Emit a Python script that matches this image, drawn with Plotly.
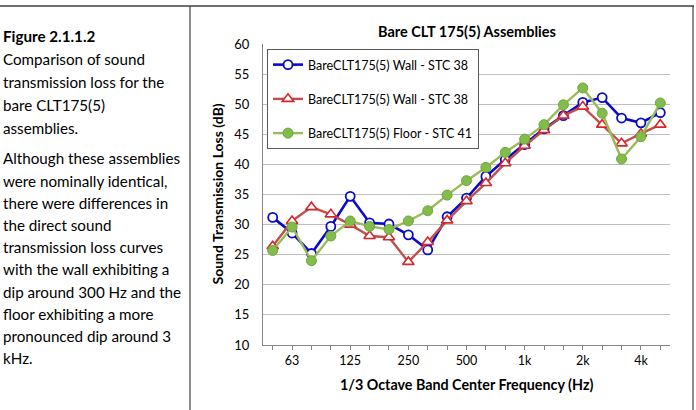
import plotly.graph_objects as go

# ---------------- data ----------------
freqs = ["50", "63", "80", "100", "125", "160", "200", "250", "315", "400", "500",
         "630", "800", "1k", "1.25k", "1.6k", "2k", "2.5k", "3.15k", "4k", "5k"]
tick_labels = ["", "63", "", "", "125", "", "", "250", "", "", "500",
               "", "", "1k", "", "", "2k", "", "", "4k", ""]

wall1_name = "BareCLT175(5) Wall - STC 38"
wall1 = [31.2, 28.6, 25.2, 29.7, 34.7, 30.3, 30.1, 28.3, 25.8, 31.3, 34.4,
         38.0, 40.8, 43.3, 45.9, 48.1, 50.3, 51.1, 47.7, 46.9, 48.6]

wall2_name = "BareCLT175(5) Wall - STC 38"
wall2 = [26.4, 30.6, 32.9, 31.7, 30.0, 28.1, 27.9, 23.8, 27.1, 30.7, 33.9,
         36.9, 40.2, 43.1, 45.7, 48.1, 49.6, 46.6, 43.5, 45.1, 46.6]

floor_name = "BareCLT175(5) Floor - STC 41"
floor = [25.7, 29.6, 24.0, 28.1, 30.6, 29.7, 29.2, 30.6, 32.3, 34.9, 37.3,
         39.5, 42.0, 44.2, 46.6, 49.9, 52.7, 48.5, 40.9, 44.6, 50.2]

chart_title = "Bare CLT 175(5) Assemblies"
x_title = "1/3 Octave Band Center Frequency (Hz)"
y_title = "Sound Transmission Loss (dB)"

caption_bold = "Figure 2.1.1.2"
caption_lines_1 = ["Comparison of sound", "transmission loss for the",
                   "bare CLT175(5)", "assemblies."]
caption_lines_2 = ["Although these assemblies", "were nominally identical,",
                   "there were differences in", "the direct sound",
                   "transmission loss curves", "with the wall exhibiting a",
                   "dip around 300 Hz and the", "floor exhibiting a more",
                   "pronounced dip around 3", "kHz."]

# ---------------- layout constants ----------------
W, H = 696, 410
L, R, T, B = 263, 670, 44, 345  # plot area in pixels
FONT = "Lato"


def px_x(px):
    return (px - L) / (R - L)


def px_y(py):
    return (B - py) / (B - T)


xi = list(range(len(freqs)))

fig = go.Figure()
fig.add_trace(go.Scatter(
    x=xi, y=wall1, name=wall1_name, mode="lines+markers", legendgroup="a",
    line=dict(color="#0A0AC8", width=2.6),
    marker=dict(symbol="circle", size=9, color="white",
                line=dict(color="#0A0AC8", width=1.8))))
fig.add_trace(go.Scatter(
    x=xi, y=wall2, name=wall2_name, mode="lines+markers", legendgroup="b",
    line=dict(color="#C0504D", width=2.4),
    marker=dict(symbol="triangle-up", size=10, color="white",
                line=dict(color="#D8262B", width=1.6))))
fig.add_trace(go.Scatter(
    x=xi, y=floor, name=floor_name, mode="lines+markers", legendgroup="c",
    line=dict(color="#9BBB59", width=2.4),
    marker=dict(symbol="circle", size=10, color="#82BC4B",
                line=dict(color="#6FA73D", width=1))))

annotations = []
# chart title
annotations.append(dict(text="<b>%s</b>" % chart_title, x=0.5, y=px_y(32),
                        xref="paper", yref="paper", showarrow=False,
                        font=dict(family=FONT, size=14.5, color="#000"),
                        xanchor="center", yanchor="middle"))
# axis titles
annotations.append(dict(text="<b>%s</b>" % x_title, x=0.5, y=px_y(384),
                        xref="paper", yref="paper", showarrow=False,
                        font=dict(family=FONT, size=14.3, color="#000"),
                        xanchor="center", yanchor="middle"))
annotations.append(dict(text="<b>%s</b>" % y_title, x=px_x(217), y=0.5,
                        xref="paper", yref="paper", showarrow=False, textangle=-90,
                        font=dict(family=FONT, size=14, color="#000"),
                        xanchor="center", yanchor="middle"))
# caption text
cap_x = px_x(1)
cap_size = 15.2
annotations.append(dict(text="<b>%s</b>" % caption_bold, x=cap_x, y=px_y(36),
                        xref="paper", yref="paper", showarrow=False,
                        font=dict(family=FONT, size=cap_size, color="#000"),
                        xanchor="left", yanchor="middle"))
for i, t in enumerate(caption_lines_1):
    annotations.append(dict(text=t, x=cap_x, y=px_y(58.5 + 23 * i),
                            xref="paper", yref="paper", showarrow=False,
                            font=dict(family=FONT, size=cap_size, color="#000"),
                            xanchor="left", yanchor="middle"))
for i, t in enumerate(caption_lines_2):
    annotations.append(dict(text=t, x=cap_x, y=px_y(158.3 + 22.2 * i),
                            xref="paper", yref="paper", showarrow=False,
                            font=dict(family=FONT, size=cap_size, color="#000"),
                            xanchor="left", yanchor="middle"))

shapes = [
    dict(type="line", xref="paper", yref="paper", x0=px_x(0), x1=px_x(694),
         y0=px_y(6), y1=px_y(6), line=dict(color="#3F3F3F", width=1.5)),
    dict(type="line", xref="paper", yref="paper", x0=px_x(190), x1=px_x(190),
         y0=px_y(6), y1=px_y(412), line=dict(color="#3F3F3F", width=1.2)),
    dict(type="line", xref="paper", yref="paper", x0=px_x(693), x1=px_x(693),
         y0=px_y(6), y1=px_y(412), line=dict(color="#3F3F3F", width=1.2)),
]

fig.update_layout(
    width=W, height=H,
    margin=dict(l=L, r=W - R, t=T, b=H - B, pad=0),
    paper_bgcolor="white", plot_bgcolor="white",
    font=dict(family=FONT, size=12.5, color="#000"),
    showlegend=True,
    legend=dict(x=px_x(267), y=px_y(49), xanchor="left", yanchor="top",
                bgcolor="white", bordercolor="#595959", borderwidth=1,
                font=dict(family=FONT, size=12.5, color="#000"),
                tracegroupgap=15, itemwidth=30),
    annotations=annotations,
    shapes=shapes,
    xaxis=dict(range=[-0.5, len(freqs) - 0.5], tickmode="array", tickvals=xi,
               ticktext=tick_labels, ticks="outside", ticklen=4, tickcolor="#868686",
               showgrid=False, showline=True, linecolor="#868686", linewidth=1,
               zeroline=False, tickfont=dict(family=FONT, size=12.5)),
    yaxis=dict(range=[10, 60], dtick=5, tick0=10, showgrid=True,
               gridcolor="#BFBFBF", gridwidth=1.3, showline=True,
               linecolor="#868686", linewidth=1, zeroline=False, ticks="",
               ticklabelstandoff=10, tickfont=dict(family=FONT, size=13)),
)

fig.write_html("out.html")
